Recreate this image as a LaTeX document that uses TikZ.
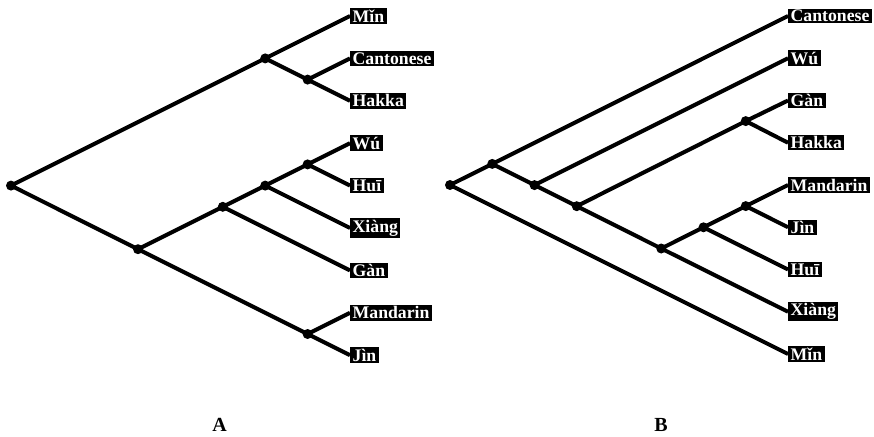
\documentclass[tikz,border=0pt]{standalone}
\usepackage{fontspec}
\setmainfont{Liberation Serif}
\begin{document}
\begin{tikzpicture}[x=1pt,y=-1pt,
  branch/.style={line width=4pt},
  joint/.style={circle,fill=black,inner sep=0pt,minimum size=10pt},
  taxon/.style={anchor=west,fill=black,text=white,
    font=\fontsize{17.7}{18}\selectfont\bfseries,inner xsep=2.5pt,inner ysep=1.5pt},
  panel/.style={font=\fontsize{20}{20}\selectfont\bfseries}]
\useasboundingbox (0,0) rectangle (874,436);

% ---------- Tree A ----------
\node[taxon] (aMin)  at (350,16)    {Mǐn};
\node[taxon] (aCan)  at (350,58.4)  {Cantonese};
\node[taxon] (aHak)  at (350,100.8) {Hakka};
\node[taxon] (aWu)   at (350,143.2) {Wú};
\node[taxon] (aHui)  at (350,185.6) {Huī};
\node[taxon] (aXia)  at (350,228)   {Xiàng};
\node[taxon] (aGan)  at (350,270.4) {Gàn};
\node[taxon] (aMan)  at (350,312.8) {Mandarin};
\node[taxon] (aJin)  at (350,355.2) {Jìn};

\node[joint] (a1) at (11,185.6) {};
\node[joint] (a2) at (265.2,58.4) {};
\node[joint] (a3) at (307.6,79.6) {};
\node[joint] (a4) at (138,249.2) {};
\node[joint] (a5) at (222.8,206.8) {};
\node[joint] (a6) at (265.2,185.6) {};
\node[joint] (a7) at (307.6,164.4) {};
\node[joint] (a8) at (307.6,334) {};

\draw[branch] (a1.center) -- (a2.center);
\draw[branch] (a1.center) -- (a4.center);
\draw[branch] (a2.center) -- (aMin.west);
\draw[branch] (a2.center) -- (a3.center);
\draw[branch] (a3.center) -- (aCan.west);
\draw[branch] (a3.center) -- (aHak.west);
\draw[branch] (a4.center) -- (a5.center);
\draw[branch] (a4.center) -- (a8.center);
\draw[branch] (a5.center) -- (a6.center);
\draw[branch] (a5.center) -- (aGan.west);
\draw[branch] (a6.center) -- (a7.center);
\draw[branch] (a6.center) -- (aXia.west);
\draw[branch] (a7.center) -- (aWu.west);
\draw[branch] (a7.center) -- (aHui.west);
\draw[branch] (a8.center) -- (aMan.west);
\draw[branch] (a8.center) -- (aJin.west);

% ---------- Tree B ----------
\node[taxon] (bCan)  at (788,16)     {Cantonese};
\node[taxon] (bWu)   at (788,58.25)  {Wú};
\node[taxon] (bGan)  at (788,100.5)  {Gàn};
\node[taxon] (bHak)  at (788,142.75) {Hakka};
\node[taxon] (bMan)  at (788,185)    {Mandarin};
\node[taxon] (bJin)  at (788,227.25) {Jìn};
\node[taxon] (bHui)  at (788,269.5)  {Huī};
\node[taxon] (bXia)  at (788,311.75) {Xiàng};
\node[taxon] (bMin)  at (788,354)    {Mǐn};

\node[joint] (b1) at (450,185) {};
\node[joint] (b2) at (492.25,163.9) {};
\node[joint] (b3) at (534.5,185.1) {};
\node[joint] (b4) at (576.75,206.2) {};
\node[joint] (b5) at (745.75,121.1) {};
\node[joint] (b6) at (661.25,248.5) {};
\node[joint] (b7) at (703.5,227.3) {};
\node[joint] (b8) at (745.75,206.1) {};

\draw[branch] (b1.center) -- (b2.center);
\draw[branch] (b1.center) -- (bMin.west);
\draw[branch] (b2.center) -- (bCan.west);
\draw[branch] (b2.center) -- (b3.center);
\draw[branch] (b3.center) -- (bWu.west);
\draw[branch] (b3.center) -- (b4.center);
\draw[branch] (b4.center) -- (b5.center);
\draw[branch] (b4.center) -- (b6.center);
\draw[branch] (b5.center) -- (bGan.west);
\draw[branch] (b5.center) -- (bHak.west);
\draw[branch] (b6.center) -- (b7.center);
\draw[branch] (b6.center) -- (bXia.west);
\draw[branch] (b7.center) -- (b8.center);
\draw[branch] (b7.center) -- (bHui.west);
\draw[branch] (b8.center) -- (bMan.west);
\draw[branch] (b8.center) -- (bJin.west);

% ---------- Panel letters ----------
\node[panel] (labA) at (219.5,424.5) {A};
\node[panel] (labB) at (661,424.5) {B};
\end{tikzpicture}
\end{document}
